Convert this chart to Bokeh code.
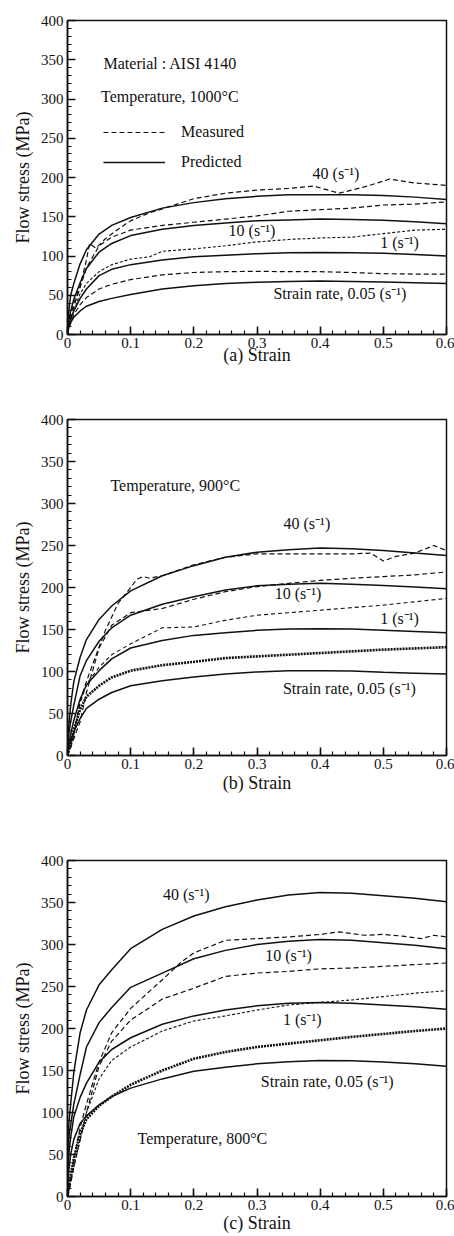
from bokeh.plotting import figure
from bokeh.layouts import column
from bokeh.models import Range1d, FixedTicker, Label, Legend, LegendItem
from bokeh.embed import file_html
from bokeh.resources import INLINE

# ---------------- data ----------------
GRID = [0, 0.002, 0.005, 0.01, 0.02, 0.03, 0.05, 0.07, 0.1, 0.15, 0.2, 0.25, 0.3, 0.35, 0.4, 0.45, 0.5, 0.55, 0.6]

X_TICKS = [0, 0.1, 0.2, 0.3, 0.4, 0.5, 0.6]
X_MINOR = [round(i * 0.02, 2) for i in range(31)]
Y_TICKS = [0, 50, 100, 150, 200, 250, 300, 350, 400]
Y_MINOR = list(range(0, 401, 10))
X_TICK_LABELS = {0: "0", 0.1: "0.1", 0.2: "0.2", 0.3: "0.3", 0.4: "0.4", 0.5: "0.5", 0.6: "0.6"}

# (a) 1000 C
A_PRED_40 = [0, 30, 50, 65, 90, 108, 128, 139, 149, 161, 168, 173, 176, 178, 178, 178, 177, 175, 172]
A_PRED_10 = [0, 18, 30, 45, 66, 84, 105, 116, 126, 134, 139, 142, 145, 146, 147, 146.5, 145.5, 143.5, 141]
A_PRED_1 = [0, 12, 20, 30, 46, 58, 75, 83, 89, 95, 99, 101, 103, 104, 104.5, 104, 103.5, 102, 100]
A_PRED_005 = [0, 9, 15, 22, 30, 36, 42, 46, 51, 58, 62, 65, 66.5, 67.5, 68, 67.5, 67, 66, 65]
A_MEAS_40_X = [0, 0.002, 0.005, 0.01, 0.02, 0.03, 0.035, 0.045, 0.06, 0.08, 0.1, 0.13, 0.15, 0.2, 0.25, 0.3, 0.35, 0.39, 0.43, 0.47, 0.51, 0.55, 0.6]
A_MEAS_40 = [0, 12, 25, 40, 62, 95, 116, 110, 122, 134, 145, 155, 160, 173, 180, 184, 186, 189, 180, 188, 198, 193, 190]
A_MEAS_10 = [0, 10, 20, 35, 60, 85, 113, 124, 133, 139, 143, 147, 151, 157, 159, 161, 165, 166, 169]
A_MEAS_1_X = [0, 0.002, 0.005, 0.01, 0.02, 0.03, 0.05, 0.07, 0.1, 0.13, 0.15, 0.2, 0.25, 0.3, 0.35, 0.4, 0.45, 0.5, 0.55, 0.6]
A_MEAS_1 = [0, 10, 18, 30, 52, 65, 80, 89, 96, 99, 106, 109, 113, 118, 121, 123, 124, 128.5, 133, 134]
A_MEAS_005 = [0, 8, 15, 25, 38, 47, 58, 64, 70, 76, 79, 80, 80.5, 80, 80, 79, 77.5, 77, 77]

# (b) 900 C
B_PRED_40 = [0, 35, 60, 88, 117, 138, 162, 178, 196, 214, 226, 236, 242, 245, 247, 246, 244, 241, 238]
B_PRED_10 = [0, 25, 40, 60, 95, 113, 136, 152, 167, 180, 189, 197, 202, 204, 205, 204, 202.5, 200.5, 198.5]
B_PRED_1 = [0, 15, 25, 42, 67, 84, 101, 115, 128, 137, 143, 146, 149, 150.5, 151, 150.5, 149, 147.5, 146]
B_PRED_005 = [0, 10, 18, 28, 44, 56, 67, 75, 83, 89, 93.5, 97, 99.5, 101, 101, 100.5, 99, 98, 97]
B_MEAS_40_X = [0, 0.002, 0.005, 0.01, 0.02, 0.03, 0.04, 0.06, 0.08, 0.1, 0.11, 0.12, 0.13, 0.15, 0.2, 0.25, 0.3, 0.35, 0.4, 0.45, 0.48, 0.5, 0.52, 0.55, 0.58, 0.6]
B_MEAS_40 = [0, 4, 10, 25, 65, 88, 109, 149, 181, 200, 210, 213, 211, 214, 227, 236, 240, 240, 240, 240, 241, 231.5, 237, 241, 250, 244]
B_MEAS_10 = [0, 4, 10, 20, 40, 75, 128, 155, 170, 175, 186, 195, 201, 205, 208.5, 211, 213, 215, 218.5]
B_MEAS_1 = [0, 5, 12, 25, 62, 85, 105, 120, 133, 152, 153, 161, 167, 170, 173, 176, 179, 183, 187]
B_MEAS_005 = [0, 6, 15, 30, 55, 70, 83, 93, 101, 107.5, 111.5, 116, 118, 120, 122, 124, 126, 127.5, 129]

# (c) 800 C
C_PRED_40 = [0, 85, 110, 148, 195, 222, 252, 270, 295, 318, 334, 345, 353, 359, 362, 361, 358, 355, 351]
C_PRED_10 = [0, 70, 85, 110, 145, 178, 207, 225, 249, 266, 283, 293, 300, 304, 306, 305, 302, 299, 295]
C_PRED_1 = [0, 50, 70, 95, 118, 135, 160, 175, 189, 205, 215, 222, 227, 230, 231, 230, 228, 226, 223]
C_PRED_005 = [0, 30, 50, 68, 87, 96, 109, 119, 129, 140, 149, 154, 158, 160.5, 162, 161.5, 160, 158, 155]
C_MEAS_40_X = [0, 0.002, 0.005, 0.01, 0.02, 0.03, 0.05, 0.07, 0.1, 0.15, 0.18, 0.2, 0.25, 0.3, 0.35, 0.4, 0.43, 0.47, 0.5, 0.53, 0.56, 0.58, 0.6]
C_MEAS_40 = [0, 8, 20, 45, 82, 110, 160, 195, 224, 258, 279, 290, 305, 307, 309, 312, 315, 311, 312, 310, 307, 311, 309]
C_MEAS_10 = [0, 6, 15, 35, 67, 100, 155, 185, 210, 235, 248, 262, 266, 268, 271, 272, 274, 276, 278]
C_MEAS_1 = [0, 8, 18, 35, 68, 100, 140, 162, 178, 197, 209, 215, 222, 228, 231, 234, 238, 242, 245]
C_MEAS_005 = [0, 10, 25, 45, 75, 92, 108, 119, 133, 150, 164, 172, 178, 182, 186, 190, 193.5, 197, 200]

SERIF = "Liberation Serif"
INK = "#111111"


def rate_label(r):
    return f"{r} (s\u207b\u00b9)"


def make_panel(height, border_top, border_bottom, border_left, xlabel, xlabel_standoff,
               preds, meas, meas_styles, labels):
    p = figure(width=454, height=height, x_range=Range1d(0, 0.6), y_range=Range1d(0, 400),
               output_backend="svg", toolbar_location=None,
               min_border_top=border_top, min_border_bottom=border_bottom,
               min_border_left=border_left, min_border_right=8)
    p.xgrid.visible = False
    p.ygrid.visible = False
    p.outline_line_color = INK
    p.outline_line_width = 1.5
    p.background_fill_color = "white"
    p.border_fill_color = "white"

    p.xaxis.ticker = FixedTicker(ticks=X_TICKS, minor_ticks=X_MINOR)
    p.yaxis.ticker = FixedTicker(ticks=Y_TICKS, minor_ticks=Y_MINOR)
    p.xaxis.major_label_overrides = X_TICK_LABELS
    for ax in (p.xaxis, p.yaxis):
        ax.axis_line_color = INK
        ax.axis_line_width = 1.6
        ax.major_tick_in = 8
        ax.major_tick_out = 0
        ax.minor_tick_in = 4
        ax.minor_tick_out = 0
        ax.major_tick_line_color = INK
        ax.minor_tick_line_color = INK
        ax.major_tick_line_width = 1.6
        ax.minor_tick_line_width = 1.2
        ax.major_label_text_font = SERIF
        ax.major_label_text_font_size = "15px"
        ax.major_label_text_color = INK
        ax.axis_label_text_font = SERIF
        ax.axis_label_text_font_size = "18px"
        ax.axis_label_text_font_style = "normal"
        ax.axis_label_text_color = INK
    p.xaxis.axis_label = xlabel
    p.xaxis.major_label_standoff = 3
    p.xaxis.axis_label_standoff = xlabel_standoff
    p.yaxis.axis_label = "Flow stress (MPa)"
    p.yaxis.major_label_standoff = 4
    p.yaxis.axis_label_standoff = 5

    rends = {}
    for (xs, ys, key) in preds:
        rends["pred_" + key] = p.line(xs, ys, line_color=INK, line_width=1.5)
    for (xs, ys, key) in meas:
        dash, w = meas_styles.get(key, ("5 3", 1.2))
        rends["meas_" + key] = p.line(xs, ys, line_color=INK, line_width=w, line_dash=dash)

    for (txt, x, y) in labels:
        p.add_layout(Label(x=x, y=y, text=txt, text_font=SERIF, text_font_size="16px",
                           text_color=INK, text_baseline="middle", text_align="left"))
    return p, rends


pa, ra = make_panel(
    400, 20, 66, 67, "(a) Strain", -6,
    [(GRID, A_PRED_40, "40"), (GRID, A_PRED_10, "10"), (GRID, A_PRED_1, "1"), (GRID, A_PRED_005, "0.05")],
    [(A_MEAS_40_X, A_MEAS_40, "40"), (GRID, A_MEAS_10, "10"), (A_MEAS_1_X, A_MEAS_1, "1"), (GRID, A_MEAS_005, "0.05")],
    {"1": ("3 2", 1.1)},
    [("Material : AISI 4140", 0.057, 345), ("Temperature, 1000\u00b0C", 0.053, 303),
     (rate_label("40"), 0.388, 205), (rate_label("10"), 0.255, 132.5),
     (rate_label("1"), 0.495, 117), ("Strain rate, " + rate_label("0.05"), 0.326, 52)],
)
legend = Legend(items=[LegendItem(label="Measured", renderers=[ra["meas_40"]]),
                       LegendItem(label="Predicted", renderers=[ra["pred_40"]])],
                location=(36, 162), glyph_width=62, glyph_height=20, label_height=20,
                label_standoff=16, spacing=10, padding=0, margin=0,
                border_line_color=None, background_fill_alpha=0,
                label_text_font=SERIF, label_text_font_size="16px", label_text_color=INK)
pa.add_layout(legend)

pb, rb = make_panel(
    415, 19, 60, 63, "(b) Strain", 1,
    [(GRID, B_PRED_40, "40"), (GRID, B_PRED_10, "10"), (GRID, B_PRED_1, "1"), (GRID, B_PRED_005, "0.05")],
    [(B_MEAS_40_X, B_MEAS_40, "40"), (GRID, B_MEAS_10, "10"), (GRID, B_MEAS_1, "1"), (GRID, B_MEAS_005, "0.05")],
    {"0.05": ("2 1", 2.6), "1": ("4 3", 1.1)},
    [("Temperature, 900\u00b0C", 0.068, 321), (rate_label("40"), 0.342, 276),
     (rate_label("10"), 0.328, 193), (rate_label("1"), 0.495, 163),
     ("Strain rate, " + rate_label("0.05"), 0.341, 80)],
)

pc, rc = make_panel(
    421, 45, 40, 59, "(c) Strain", 0,
    [(GRID, C_PRED_40, "40"), (GRID, C_PRED_10, "10"), (GRID, C_PRED_1, "1"), (GRID, C_PRED_005, "0.05")],
    [(C_MEAS_40_X, C_MEAS_40, "40"), (GRID, C_MEAS_10, "10"), (GRID, C_MEAS_1, "1"), (GRID, C_MEAS_005, "0.05")],
    {"0.05": ("2 1", 2.6), "1": ("3 2", 1.1)},
    [(rate_label("40"), 0.151, 359.5), (rate_label("10"), 0.313, 287),
     (rate_label("1"), 0.341, 210.7), ("Strain rate, " + rate_label("0.05"), 0.306, 137),
     ("Temperature, 800\u00b0C", 0.111, 69)],
)

layout = column(pa, pb, pc, spacing=0)
open("out.html", "w").write(file_html(layout, INLINE))
